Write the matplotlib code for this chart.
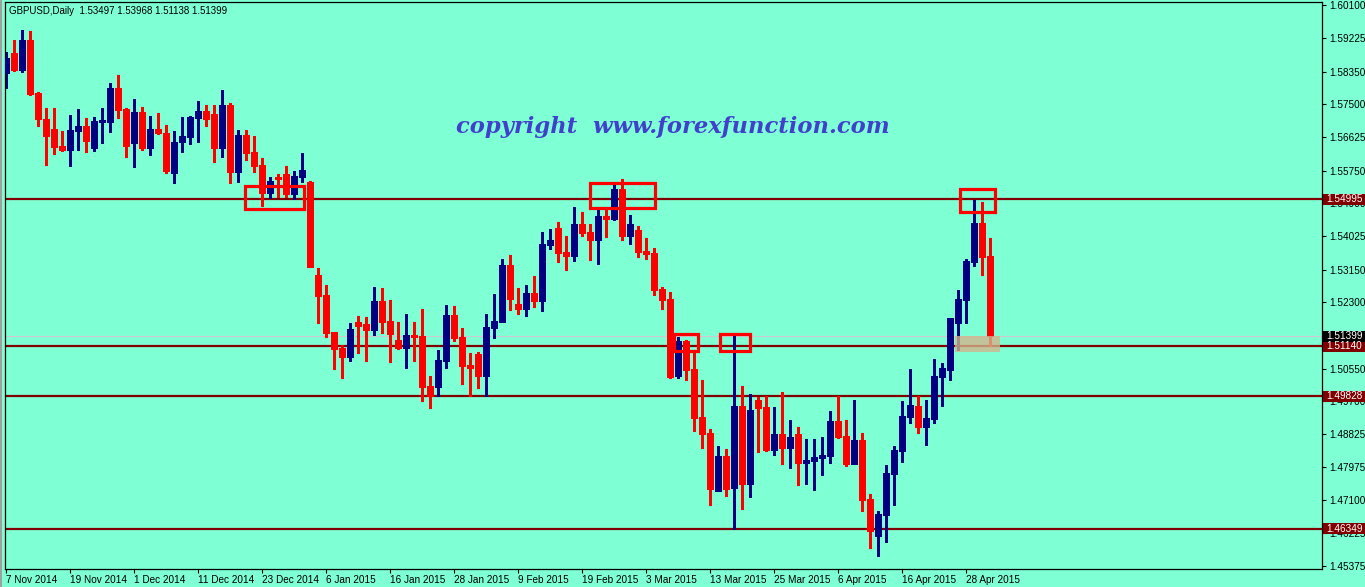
import matplotlib
matplotlib.use("Agg")
import matplotlib.pyplot as plt
from matplotlib.patches import Rectangle
from matplotlib.transforms import blended_transform_factory
import numpy as np

# GBPUSD daily candles, 7 Nov 2014 .. 1 May 2015
opens = [1.58305, 1.58848, 1.58393, 1.59181, 1.57797, 1.57106, 1.56843, 1.56406, 1.56292, 1.56799,
         1.56922, 1.56353, 1.57036, 1.57036, 1.57911, 1.57368, 1.56484, 1.57281, 1.56353, 1.56843,
         1.56729, 1.55696, 1.56511, 1.56642, 1.57141, 1.57316, 1.57237, 1.56353, 1.57474, 1.55723,
         1.56686, 1.56230, 1.55898, 1.55171, 1.55574, 1.55661, 1.55127, 1.55591, 1.55443, 1.53009,
         1.52484, 1.51512, 1.51092, 1.50865, 1.51775, 1.51722, 1.51565, 1.52326, 1.51801, 1.51302,
         1.51101, 1.51434, 1.51416, 1.50094, 1.50077, 1.50760, 1.51959, 1.51381, 1.50646, 1.50935,
         1.50366, 1.51626, 1.51784, 1.53272, 1.52248, 1.52116, 1.52528, 1.52335, 1.53797, 1.54244,
         1.53613, 1.53508, 1.54349, 1.54139, 1.53928, 1.54559, 1.54480, 1.55268, 1.54042, 1.54191,
         1.53640, 1.53578, 1.52633, 1.52370, 1.50366, 1.51276, 1.50541, 1.49280, 1.48860, 1.47345,
         1.48256, 1.47424, 1.49569, 1.47529, 1.49727, 1.49543, 1.48413, 1.48834, 1.48475, 1.48834,
         1.48081, 1.48133, 1.48212, 1.48265, 1.49175, 1.48781, 1.48055, 1.48676, 1.47127, 1.46164,
         1.46715, 1.47792, 1.48396, 1.49289, 1.49569, 1.49026, 1.49236, 1.50339, 1.50514, 1.51757,
         1.52353, 1.53359, 1.54375, 1.53497]
highs = [1.58874, 1.59181, 1.59443, 1.59417, 1.57824, 1.57386, 1.57386, 1.56791, 1.57211, 1.57368,
         1.57141, 1.57167, 1.57386, 1.58043, 1.58261, 1.57403, 1.57631, 1.57430, 1.57185, 1.57255,
         1.56948, 1.56791, 1.57167, 1.57185, 1.57579, 1.57474, 1.57474, 1.57867, 1.57517, 1.56817,
         1.56817, 1.56659, 1.56073, 1.55574, 1.55661, 1.55880, 1.55740, 1.56204, 1.55478, 1.53184,
         1.52747, 1.51521, 1.51171, 1.51757, 1.51941, 1.51915, 1.52703, 1.52677, 1.52353, 1.51784,
         1.51985, 1.51784, 1.52116, 1.50366, 1.51040, 1.52221, 1.52195, 1.51626, 1.50952, 1.50996,
         1.51985, 1.52510, 1.53430, 1.53535, 1.52677, 1.52747, 1.52983, 1.54139, 1.54217, 1.54401,
         1.54033, 1.54795, 1.54664, 1.54349, 1.54804, 1.54743, 1.55373, 1.55530, 1.54585, 1.54296,
         1.53990, 1.53718, 1.52703, 1.52554, 1.51372, 1.51302, 1.50952, 1.50252, 1.48965, 1.48519,
         1.48440, 1.51416, 1.50094, 1.49875, 1.49814, 1.49832, 1.49543, 1.49937, 1.49201, 1.49026,
         1.48702, 1.48702, 1.48764, 1.49438, 1.49832, 1.49201, 1.49727, 1.48869, 1.47258, 1.46820,
         1.48019, 1.48519, 1.49700, 1.50541, 1.49832, 1.49727, 1.50803, 1.50690, 1.51889, 1.52615,
         1.53430, 1.54979, 1.54926, 1.53968]
lows = [1.57911, 1.58375, 1.58349, 1.57736, 1.56922, 1.55898, 1.56187, 1.56274, 1.55880, 1.56292,
        1.56248, 1.56274, 1.56467, 1.56773, 1.57141, 1.56117, 1.55854, 1.56292, 1.56160, 1.56712,
        1.55679, 1.55416, 1.56248, 1.56449, 1.56511, 1.56931, 1.55985, 1.56099, 1.55433, 1.55460,
        1.56029, 1.55723, 1.54821, 1.55022, 1.55066, 1.55066, 1.54996, 1.55460, 1.53211, 1.51757,
        1.51390, 1.50532, 1.50313, 1.50760, 1.50969, 1.50760, 1.51434, 1.51495, 1.50733, 1.51075,
        1.50576, 1.50760, 1.49709, 1.49508, 1.49840, 1.50576, 1.51285, 1.50147, 1.49840, 1.50050,
        1.49840, 1.51364, 1.51766, 1.52090, 1.51985, 1.51941, 1.52178, 1.52073, 1.53701, 1.53359,
        1.53140, 1.53386, 1.54033, 1.53403, 1.53298, 1.54016, 1.54454, 1.53928, 1.53823, 1.53491,
        1.53430, 1.52484, 1.52116, 1.50313, 1.50313, 1.50252, 1.48912, 1.48475, 1.46969, 1.47328,
        1.47214, 1.46339, 1.46864, 1.47188, 1.48370, 1.48387, 1.48282, 1.48046, 1.47950, 1.47494,
        1.47529, 1.47363, 1.47757, 1.48081, 1.48720, 1.48002, 1.48037, 1.46811, 1.45849, 1.45630,
        1.46006, 1.46969, 1.48107, 1.49131, 1.48869, 1.48554, 1.49114, 1.49578, 1.50252, 1.51040,
        1.51757, 1.53254, 1.53009, 1.51138]
closes = [1.58699, 1.58393, 1.59181, 1.57762, 1.57097, 1.56668, 1.56379, 1.56292, 1.56817, 1.56922,
          1.56537, 1.57053, 1.57080, 1.57911, 1.57342, 1.56406, 1.57281, 1.56353, 1.56843, 1.56729,
          1.55740, 1.56493, 1.56659, 1.57167, 1.57316, 1.57106, 1.56353, 1.57474, 1.55723, 1.56686,
          1.56222, 1.55880, 1.55171, 1.55478, 1.55530, 1.55127, 1.55609, 1.55766, 1.53228, 1.52467,
          1.51495, 1.51075, 1.50865, 1.51591, 1.51679, 1.51565, 1.52326, 1.51784, 1.51469, 1.51101,
          1.51434, 1.51390, 1.50077, 1.49840, 1.50777, 1.51959, 1.51364, 1.50628, 1.50576, 1.50366,
          1.51644, 1.51801, 1.53272, 1.52379, 1.52116, 1.52528, 1.52335, 1.53823, 1.53928, 1.53596,
          1.53508, 1.54349, 1.54121, 1.53928, 1.54559, 1.54489, 1.55268, 1.54042, 1.54349, 1.53622,
          1.53570, 1.52615, 1.52353, 1.50339, 1.51276, 1.50514, 1.49263, 1.48842, 1.47389, 1.48256,
          1.47389, 1.49569, 1.47529, 1.49464, 1.49525, 1.48413, 1.48834, 1.48475, 1.48755, 1.48081,
          1.48151, 1.48230, 1.48282, 1.49175, 1.48764, 1.48055, 1.48676, 1.47109, 1.46295, 1.46733,
          1.47809, 1.48413, 1.49306, 1.49595, 1.49026, 1.49254, 1.50357, 1.50558, 1.51871, 1.52379,
          1.53377, 1.54375, 1.53491, 1.51399]

date_ticks = [0, 8, 16, 24, 32, 40, 48, 56, 64, 72, 80, 88, 96, 104, 112, 120]
date_labels = ["7 Nov 2014", "19 Nov 2014", "1 Dec 2014", "11 Dec 2014", "23 Dec 2014",
               "6 Jan 2015", "16 Jan 2015", "28 Jan 2015", "9 Feb 2015", "19 Feb 2015",
               "3 Mar 2015", "13 Mar 2015", "25 Mar 2015", "6 Apr 2015", "16 Apr 2015",
               "28 Apr 2015"]
price_ticks = [1.60100, 1.59225, 1.58350, 1.57500, 1.56625, 1.55750, 1.54900, 1.54025,
               1.53150, 1.52300, 1.51425, 1.50550, 1.49700, 1.48825, 1.47975, 1.47100,
               1.46225, 1.45375]
levels = [1.54995, 1.51140, 1.49828, 1.46349]
bid = 1.51399
# marked zones: (first bar, last bar, top price, bottom price)
boxes = [(29.9, 37.2, 1.5535, 1.5474),
         (73.0, 81.1, 1.5543, 1.5478),
         (83.5, 86.5, 1.5146, 1.5102),
         (89.2, 93.0, 1.5146, 1.5102),
         (119.2, 123.6, 1.5527, 1.5466)]
zone = (118.6, 124.3, 1.5141, 1.5098)

BG = "#7FFFD4"
BULL = "#000080"
BEAR = "#FF0000"
LEVEL = "#800000"

W, H = 1365, 587
fig = plt.figure(figsize=(W / 100, H / 100), dpi=100, facecolor=BG)
ax = fig.add_axes([4.5 / W, 1 - 569 / H, (1322 - 4.5) / W, (569 - 2.3) / H])
ax.set_facecolor(BG)
# thin grey window edge on the far left
fig.patches.append(Rectangle((0, 0), 1.5 / W, 1, transform=fig.transFigure,
                             facecolor="#A0A0A0", edgecolor="none"))

o = np.array(opens)
h = np.array(highs)
l = np.array(lows)
c = np.array(closes)
x = np.arange(len(o))
up = c >= o
cols = np.where(up, BULL, BEAR)

for lv in levels:
    ax.axhline(lv, color=LEVEL, lw=1.6, zorder=1)
ax.axhline(bid, color="#D0C8D0", lw=0.8, zorder=1)

# wicks 1px, bodies 5px
ax.vlines(x, l, h, colors=cols, lw=0.8, zorder=2, antialiased=False)
body_lo = np.minimum(o, c)
body_hi = np.maximum(np.maximum(o, c), body_lo + 0.00022)
bodies = ax.vlines(x, body_lo, body_hi, colors=cols, lw=3.7, zorder=3,
                   antialiased=False)
bodies.set_capstyle("butt")

for x0, x1, top, bot in boxes:
    ax.add_patch(Rectangle((x0, bot), x1 - x0, top - bot, fill=False,
                           edgecolor="#FF0000", lw=2.3, zorder=4))
zx0, zx1, ztop, zbot = zone
ax.add_patch(Rectangle((zx0, zbot), zx1 - zx0, ztop - zbot, facecolor="#D2B48C",
                       edgecolor="none", alpha=0.8, zorder=4))

ax.set_xlim(-0.1875, 164.5)
ax.set_ylim(1.45288, 1.60171)

ax.yaxis.tick_right()
ax.set_yticks(price_ticks)
ax.set_yticklabels([f"{p:.5f}" for p in price_ticks])
ax.set_xticks(date_ticks)
ax.set_xticklabels(date_labels)
for t in ax.get_xticklabels():
    t.set_ha("left")
ax.tick_params(axis="both", length=3, width=0.8, color="black", labelsize=7.2,
               labelcolor="black")
ax.tick_params(axis="x", pad=1)
ax.tick_params(axis="y", pad=2)
for t in ax.get_xticklabels() + ax.get_yticklabels():
    t.set_fontfamily("Liberation Sans")
for sp in ax.spines.values():
    sp.set_color("black")
    sp.set_linewidth(0.9)

# price tags on the right scale
tr = blended_transform_factory(fig.transFigure, ax.transData)
tag_h = 11 / 3807.8
for p, fc in [(lv, LEVEL) for lv in levels] + [(bid, "black")]:
    ax.add_patch(Rectangle((1323 / W, p - tag_h / 2), 42 / W, tag_h, transform=tr,
                           facecolor=fc, edgecolor="none", clip_on=False, zorder=6))
    ax.text(1326 / W, p, f"{p:.5f}", transform=tr, color="white", fontsize=7.2,
            family="Liberation Sans", va="center", ha="left", clip_on=False, zorder=7)

ax.text(4.5 / 1317.5, 1 - 9 / 566.7, "GBPUSD,Daily  1.53497 1.53968 1.51138 1.51399",
        transform=ax.transAxes, fontsize=7.0, family="Liberation Sans",
        color="black", va="center", ha="left")

fig.text(672.5 / W, 1 - 133 / H, "copyright  www.forexfunction.com",
         fontsize=16.3, family="DejaVu Serif", weight="bold", style="italic",
         color="#4040CC", ha="center", va="baseline")

fig.savefig("out.png", dpi=100, facecolor=BG)
